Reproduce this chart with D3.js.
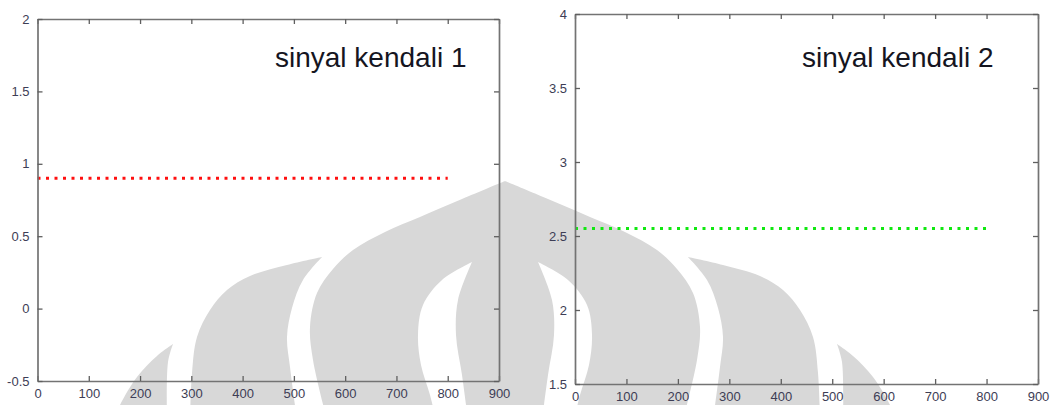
<!DOCTYPE html>
<html>
<head>
<meta charset="utf-8">
<script src="https://cdn.jsdelivr.net/npm/d3@7/dist/d3.min.js"></script>
<style>
  html, body { margin: 0; padding: 0; background: #fff; }
  svg { display: block; }
  .ticklabel { font-family: "Liberation Sans", Arial, sans-serif; font-size: 13px; fill: #3d3d55; }
  .title { font-family: "Liberation Sans", Arial, sans-serif; font-size: 28px; fill: #15151f; }
</style>
</head>
<body>
<svg id="chart" width="1063" height="405"></svg>
<script>
// ---- data ----
const xTicks = [0, 100, 200, 300, 400, 500, 600, 700, 800, 900];
const y1Ticks = [-0.5, 0, 0.5, 1, 1.5, 2];
const y2Ticks = [1.5, 2, 2.5, 3, 3.5, 4];
const y1TickLabels = ["-0.5", "0", "0.5", "1", "1.5", "2"];
const y2TickLabels = ["1.5", "2", "2.5", "3", "3.5", "4"];

const time1 = [0, 800];
const signal1 = [0.9, 0.9];
const time2 = [0, 800];
const signal2 = [2.55, 2.55];

const titles = ["sinyal kendali 1", "sinyal kendali 2"];

const svg = d3.select("#chart");

// ---- background emblem (light grey) ----
// left half of the emblem; the right half is its mirror about cx
const cx = 505;
const mirror = pts => pts.map(([x, y]) => [2 * cx - x, y]);
const curve = d3.line().curve(d3.curveCatmullRom.alpha(0.5));
function shape(edgeA, edgeB) {
  return curve(edgeA) + "L" + curve(edgeB).slice(1) + "Z";
}
const archLeft = [[327,420],[313,360],[310,327],[317,293],[333,269],[353,250],[385,232],[420,217],[462,199],[505,181]];
const archRight = mirror(archLeft.slice().reverse());
const holeOuter = [[472,262],[442,280],[423,305],[418,335],[421,365],[430,395],[436,420]];
const holeInner = [[468,420],[462,375],[456,335],[458,300],[472,262]];
const wingOuter = [[190,420],[192,373],[197,337],[210,310],[227,290],[250,276],[287,265],[322,257]];
const wingInner = [[322,257],[303,280],[292,308],[287,337],[290,367],[297,420]];
const tipOuter = [[114,420],[120,405],[137,377],[157,356],[173,344]];
const tipInner = [[173,344],[168,362],[167,420]];

const emblem = svg.append("g").attr("fill", "#d8d8d8");
emblem.append("path").attr("d", curve(archLeft) + "L" + curve(archRight).slice(1) + "Z");
emblem.append("path").attr("d", shape(wingOuter, wingInner));
emblem.append("path").attr("d", shape(mirror(wingOuter), mirror(wingInner)));
emblem.append("path").attr("d", shape(tipOuter, tipInner));
emblem.append("path").attr("d", shape(mirror(tipOuter), mirror(tipInner)));
emblem.append("path").attr("fill", "#fff").attr("d", shape(holeOuter, holeInner));
emblem.append("path").attr("fill", "#fff").attr("d", shape(mirror(holeOuter), mirror(holeInner)));

// ---- panels ----
const panels = [
  { left: 37.5, right: 499, top: 19, bottom: 381, yDomain: [-0.5, 2], yTicks: y1Ticks, yLabels: y1TickLabels,
    time: time1, signal: signal1, color: "#ff1010", title: titles[0], titleX: 275, titleY: 67 },
  { left: 575, right: 1038, top: 14, bottom: 384, yDomain: [1.5, 4], yTicks: y2Ticks, yLabels: y2TickLabels,
    time: time2, signal: signal2, color: "#10e810", title: titles[1], titleX: 802, titleY: 67 }
];

panels.forEach(p => {
  const x = d3.scaleLinear().domain([0, 900]).range([p.left, p.right]);
  const y = d3.scaleLinear().domain(p.yDomain).range([p.bottom, p.top]);
  const g = svg.append("g");

  // signal (dotted)
  const line = d3.line().x((d, i) => x(p.time[i])).y(d => y(d));
  g.append("path")
    .datum(p.signal)
    .attr("d", line)
    .attr("fill", "none")
    .attr("stroke", p.color)
    .attr("stroke-width", 3)
    .attr("stroke-dasharray", "3 5.5");

  // axes: ticks inward on all four sides, box drawn by the domains
  const axisStyle = sel => {
    sel.selectAll(".domain").attr("stroke", "#737373").attr("stroke-width", 1.7);
    sel.selectAll(".tick line").attr("stroke", "#5f5f5f").attr("stroke-width", 1.3);
    sel.selectAll("text").attr("class", "ticklabel").attr("fill", null).attr("font-size", null).attr("font-family", null);
  };

  const bottom = g.append("g").attr("transform", `translate(0,${p.bottom})`)
    .call(d3.axisBottom(x).tickValues(xTicks).tickSizeInner(-5).tickSizeOuter(0).tickPadding(8));
  axisStyle(bottom);
  const top = g.append("g").attr("transform", `translate(0,${p.top})`)
    .call(d3.axisTop(x).tickValues(xTicks).tickSizeInner(-5).tickSizeOuter(0).tickFormat(""));
  axisStyle(top);
  const leftAx = g.append("g").attr("transform", `translate(${p.left},0)`)
    .call(d3.axisLeft(y).tickValues(p.yTicks).tickSizeInner(-5).tickSizeOuter(0).tickPadding(8)
      .tickFormat((d, i) => p.yLabels[i]));
  axisStyle(leftAx);
  const rightAx = g.append("g").attr("transform", `translate(${p.right},0)`)
    .call(d3.axisRight(y).tickValues(p.yTicks).tickSizeInner(-5).tickSizeOuter(0).tickFormat(""));
  axisStyle(rightAx);

  // title inside the plot
  g.append("text")
    .attr("class", "title")
    .attr("x", p.titleX)
    .attr("y", p.titleY)
    .text(p.title);
});
</script>
</body>
</html>
